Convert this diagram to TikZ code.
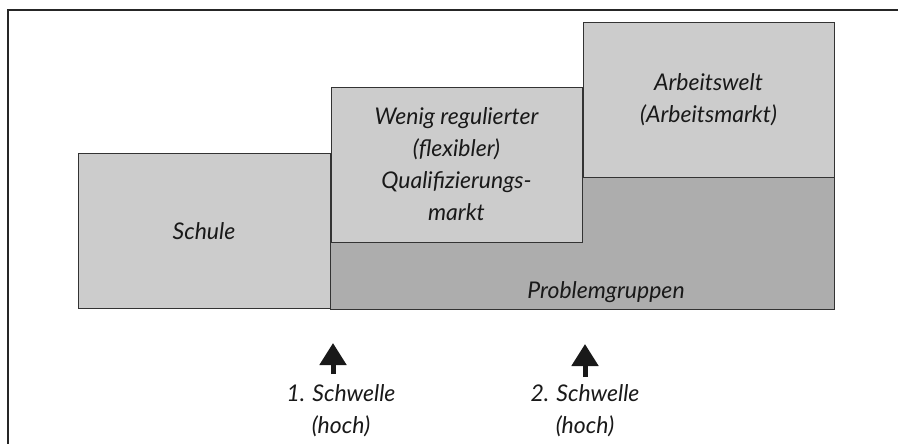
\documentclass[tikz,border=0pt]{standalone}
\usepackage{fontspec}
\setmainfont{Lato}
\usetikzlibrary{arrows.meta, positioning}

\begin{document}
\begin{tikzpicture}[
  x=1pt, y=-1pt,
  every node/.style={font=\itshape\fontsize{23}{32}\selectfont, align=center, text=black!90},
  box/.style={rectangle, draw=black!80, fill=black!20, inner sep=0pt},
  lift/.style={-{Triangle[width=26pt, length=22pt]}, line width=5pt, black!90}
]
  \useasboundingbox (0,0) rectangle (898,444);
  \draw[line width=2pt, black!85] (8,10) rectangle (912,470);

  % darker base under both upper boxes
  \node[box, fill=black!32, minimum width=504pt, minimum height=132pt] (basis) at (582,243) {};
  \node (problem) at (606,292) {Problemgruppen};

  \node[box, minimum width=252pt, minimum height=155pt] (schule) at (204,231) {Schule};
  \node[box, minimum width=251pt, minimum height=155pt] (markt) at (456.5,164.5)
    {Wenig regulierter\\(flexibler)\\Qualifizierungs-\\markt};
  \node[box, minimum width=251pt, minimum height=155pt] (welt) at (708.5,99.5)
    {Arbeitswelt\\(Arbeitsmarkt)};

  % thresholds
  \node (s1) at (341,411) {1. Schwelle\\(hoch)};
  \node (s2) at (585,411) {2. Schwelle\\(hoch)};
  \coordinate (f1) at (333,374);
  \coordinate (t1) at (333,343);
  \coordinate (f2) at (585,377);
  \coordinate (t2) at (585,344);
  \draw[lift] (f1) -- (t1);
  \draw[lift] (f2) -- (t2);
\end{tikzpicture}
\end{document}
